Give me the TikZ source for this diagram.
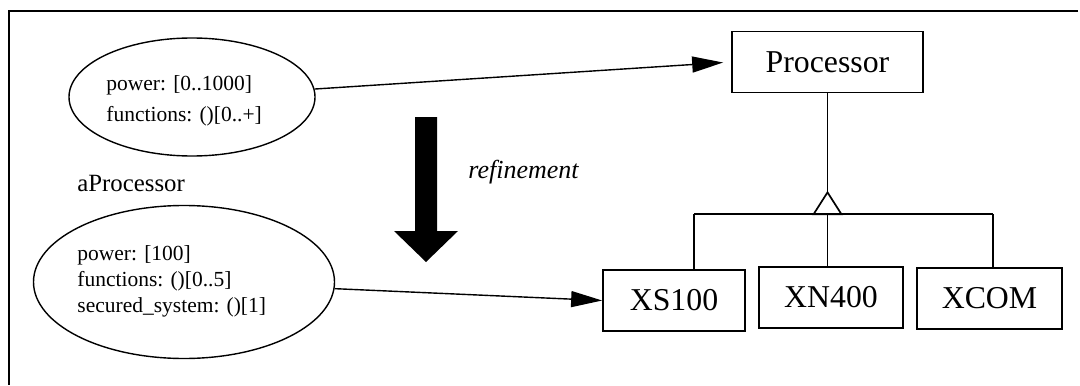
\documentclass[tikz,border=0pt]{standalone}
\usepackage{fontspec}
\setmainfont{Liberation Serif}
\usetikzlibrary{shapes.geometric,arrows.meta}
\begin{document}
\begin{tikzpicture}[x=0.5pt,y=-0.5pt,
  cls/.style={draw,line width=0.85pt,inner sep=0pt,minimum height=30.5pt,
    font=\fontsize{15.9}{19}\selectfont},
  inst/.style={draw,ellipse,line width=0.7pt,inner sep=0pt},
  attr/.style={inner sep=0pt,align=left,anchor=west},
  link/.style={line width=0.7pt,-{Triangle[length=15.5pt,width=8pt]}},
  gen/.style={line width=0.85pt}]
\useasboundingbox (0,0) rectangle (1080,385);
% frame
\draw[line width=0.85pt] (1078,11) -- (9,11) -- (9,385);

% instance ellipses
\node[inst,minimum width=123pt,minimum height=59pt] (e1) at (192,97) {};
\node[attr,font=\fontsize{10.75}{15.5}\selectfont] (e1t) at (106,101)
  {power: [0..1000]\\ functions: ()[0..+]};
\node[attr,font=\fontsize{12.4}{15}\selectfont] (iname) at (77,183) {aProcessor};

\node[inst,minimum width=150.5pt,minimum height=76.5pt] (e2) at (184,282) {};
\node[attr,font=\fontsize{10.75}{13}\selectfont] (e2t) at (77,281)
  {power: [100]\\ functions: ()[0..5]\\ secured\_system: ()[1]};

% refinement arrow
\fill (415,117) -- (437,117) -- (437,231) -- (458,231) -- (426,262)
  -- (394,231) -- (415,231) -- cycle;
\node[attr,font=\itshape\fontsize{13}{15}\selectfont] (refl) at (468,172) {refinement};

% classes
\node[cls,minimum width=95.5pt] (proc) at (827.5,62) {Processor};
\node[cls,minimum width=71pt] (xs) at (674,300.5) {XS100};
\node[cls,minimum width=72pt] (xn) at (831,297.5) {XN400};
\node[cls,minimum width=72.5pt] (xc) at (989.5,298.5) {XCOM};

% generalization
\path (proc.south) ++(0,99) coordinate (apex);
\path (apex) ++(0,23) coordinate (hub);
\coordinate (bl) at (694,214);
\coordinate (br) at (993,214);
\draw[gen] (proc.south) -- (apex);
\draw[gen] (apex) -- ++(-14,22) -- ++(28,0) -- cycle;
\draw[gen] (bl) -- (br);
\draw[gen] (bl) -- (bl |- xs.north);
\draw[gen] (hub) -- (hub |- xn.north);
\draw[gen] (br) -- (br |- xc.north);

% instance-of links
\draw[link,shorten >=4pt] (e1) -- (proc.west);
\draw[link] (e2) -- (xs.west);
\end{tikzpicture}
\end{document}
